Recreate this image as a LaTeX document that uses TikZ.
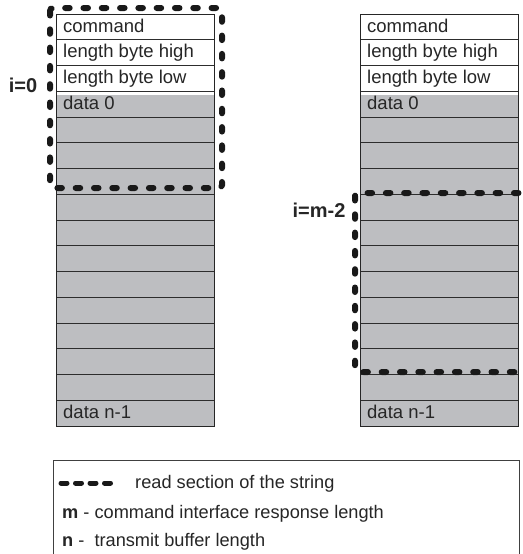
\documentclass[tikz,border=0pt]{standalone}
\usepackage{fontspec}
\setmainfont{Liberation Sans}
\definecolor{gcol}{RGB}{189,190,193}
\definecolor{lcol}{RGB}{45,45,45}
\tikzset{
  rowline/.style={draw=lcol,line width=0.9pt},
  border/.style={draw=black!85,line width=1pt},
  celltext/.style={anchor=base west,inner sep=0pt,font=\fontsize{18.5}{20}\selectfont,text=black!85},
  idxlabel/.style={anchor=center,inner sep=0pt,font=\fontsize{20}{22}\selectfont\bfseries,text=black!85},
  readbox/.style={draw=black!90,line width=6pt,line cap=round,dash pattern=on 4.5pt off 13.8pt,rounded corners=3pt},
  legdash/.style={draw=black!90,line width=5pt,line cap=round,dash pattern=on 6pt off 8.5pt},
  legendbox/.style={draw=black!75,line width=1pt},
  legtext/.style={anchor=base west,inner sep=0pt,font=\fontsize{18.2}{20}\selectfont,text=black!85}
}
\begin{document}
\begin{tikzpicture}[x=1pt,y=-1pt]
\useasboundingbox (0,0) rectangle (522,554);
\fill[white] (0,0) rectangle (522,554);
% columns
\foreach \cx/\nm in {56/L,360/R}{
  \fill[gcol] (\cx,95) rectangle (\cx+158,426);
  \foreach \k in {1,...,15}{
    \draw[rowline] (\cx,14+\k*25.75) -- (\cx+158,14+\k*25.75);
  }
  \draw[border] (\cx,14) rectangle (\cx+158,426);
  \node[celltext] (\nm cmd) at (\cx+7,32) {command};
  \node[celltext] (\nm lbh) at (\cx+7,57.75) {length byte high};
  \node[celltext] (\nm lbl) at (\cx+7,83.5) {length byte low};
  \node[celltext] (\nm d0) at (\cx+7,109.25) {data 0};
  \node[celltext] (\nm dn) at (\cx+7,418.25) {data n-1};
}
% read sections
\draw[readbox] (50,8) rectangle (222,188);
\draw[readbox] (355,193) rectangle (545,372);
\node[idxlabel] (i0) at (23,85) {i=0};
\node[idxlabel] (im2) at (319,210) {i=m-2};
% legend
\draw[legendbox] (53,460) rectangle (519,580);
\coordinate (la) at (61,483);
\coordinate (lb) at (111,483);
\draw[legdash] (la) -- (lb);
\node[legtext] (t1) at (135,488) {read section of the string};
\node[legtext] (t2) at (62,518) {\textbf{m} - command interface response length};
\node[legtext] (t3) at (62,546) {\textbf{n} -\ \ transmit buffer length};
\end{tikzpicture}
\end{document}
